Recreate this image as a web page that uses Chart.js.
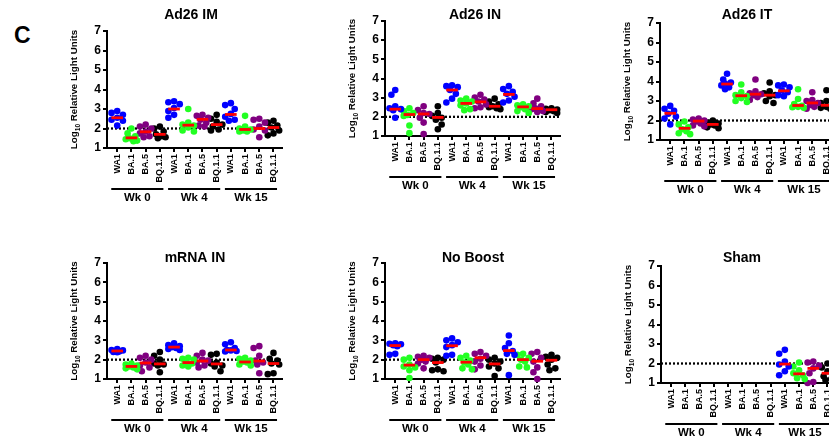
<!DOCTYPE html>
<html>
<head>
<meta charset="utf-8">
<script src="https://cdn.jsdelivr.net/npm/chart.js@4.4.1/dist/chart.umd.min.js"></script>
<style>
    body { margin: 0; width: 829px; height: 444px; overflow: hidden; position: relative; background: #fff; }
    canvas { position: absolute; }
    #letter { position: absolute; left: 14px; top: 22px; font: bold 23px "Liberation Sans", Arial, sans-serif; }
</style>
</head>
<body>
<div id="letter">C</div>

<script>
    'use strict';

    var variants = ['WA1', 'BA.1', 'BA.5', 'BQ.1.1'];
    var weeks = ['Wk 0', 'Wk 4', 'Wk 15'];
    var variantColors = ['#0000ff', '#22ff22', '#800080', '#000000'];
    var lod = 2;

    // log10 RLU per animal, 12 groups: weeks x variants
    var ad26IM = [
        [2.9, 2.8, 2.7, 2.55, 2.45, 2.4, 2.15],
        [2.0, 1.75, 1.6, 1.5, 1.45, 1.38, 1.35],
        [2.2, 2.1, 2.0, 1.85, 1.75, 1.6, 1.55],
        [2.1, 2.0, 1.85, 1.7, 1.6, 1.55, 1.5],
        [3.4, 3.35, 3.25, 3.05, 2.9, 2.7, 2.55],
        [3.0, 2.3, 2.2, 2.15, 2.05, 1.9, 1.85],
        [2.7, 2.65, 2.55, 2.45, 2.3, 2.15, 2.1],
        [2.7, 2.5, 2.35, 2.2, 2.1, 1.95, 1.9],
        [3.3, 3.2, 3.0, 2.75, 2.6, 2.45, 2.4],
        [2.65, 2.1, 2.0, 1.95, 1.9, 1.85, 1.85],
        [2.5, 2.45, 2.3, 2.1, 1.95, 1.9, 1.55],
        [2.4, 2.3, 2.15, 2.05, 1.9, 1.75, 1.65]
    ];
    var ad26IMMedian = [2.55, 1.52, 1.83, 1.7, 3.0, 2.17, 2.47, 2.2, 2.72, 1.95, 2.0, 2.05];

    var ad26IN = [
        [3.4, 3.15, 2.55, 2.45, 2.4, 2.35, 1.95],
        [2.45, 2.3, 2.2, 2.1, 2.05, 1.55, 1.15],
        [2.55, 2.35, 2.2, 2.15, 1.95, 1.7, 1.1],
        [2.55, 2.2, 2.05, 1.95, 1.85, 1.6, 1.35],
        [3.65, 3.6, 3.55, 3.4, 3.2, 2.95, 2.75],
        [2.95, 2.85, 2.8, 2.7, 2.6, 2.4, 2.35],
        [3.15, 3.0, 2.9, 2.8, 2.65, 2.5, 2.45],
        [2.95, 2.8, 2.65, 2.55, 2.5, 2.45, 2.4],
        [3.6, 3.45, 3.3, 3.2, 3.05, 2.85, 2.75],
        [2.65, 2.6, 2.55, 2.5, 2.4, 2.3, 2.2],
        [2.95, 2.7, 2.55, 2.45, 2.4, 2.3, 2.25],
        [2.45, 2.42, 2.38, 2.35, 2.3, 2.25, 2.2]
    ];
    var ad26INMedian = [2.4, 2.12, 2.15, 1.97, 3.4, 2.7, 2.78, 2.55, 3.17, 2.52, 2.43, 2.37];

    var ad26IT = [
        [2.75, 2.6, 2.5, 2.35, 2.2, 2.1, 1.8],
        [1.95, 1.8, 1.65, 1.55, 1.45, 1.35, 1.3],
        [2.1, 2.05, 2.0, 1.95, 1.85, 1.75, 1.7],
        [2.0, 1.9, 1.85, 1.8, 1.75, 1.65, 1.6],
        [4.4, 4.1, 3.95, 3.9, 3.8, 3.7, 3.6],
        [3.85, 3.45, 3.3, 3.25, 3.15, 3.0, 2.95],
        [4.1, 3.5, 3.4, 3.35, 3.3, 3.2, 3.05],
        [3.95, 3.5, 3.4, 3.3, 3.25, 3.0, 2.9],
        [3.85, 3.8, 3.7, 3.55, 3.45, 3.3, 3.25],
        [3.6, 3.1, 2.85, 2.75, 2.7, 2.68, 2.65],
        [3.45, 3.05, 3.0, 2.9, 2.8, 2.7, 2.6],
        [3.55, 3.0, 2.9, 2.8, 2.7, 2.65, 2.6]
    ];
    var ad26ITMedian = [2.37, 1.6, 1.97, 1.8, 3.87, 3.27, 3.35, 3.3, 3.52, 2.77, 2.9, 2.78];

    var mrnaIN = [
        [2.55, 2.5, 2.48, 2.45, 2.42, 2.4, 2.38],
        [1.8, 1.75, 1.7, 1.65, 1.6, 1.55, 1.5],
        [2.2, 2.1, 2.0, 1.85, 1.7, 1.6, 1.4],
        [2.4, 2.2, 2.0, 1.8, 1.75, 1.7, 1.35],
        [2.85, 2.75, 2.7, 2.65, 2.6, 2.55, 2.5],
        [2.1, 2.05, 2.0, 1.85, 1.8, 1.7, 1.65],
        [2.35, 2.2, 2.0, 1.95, 1.85, 1.7, 1.6],
        [2.3, 2.25, 1.85, 1.8, 1.7, 1.65, 1.4],
        [2.9, 2.8, 2.6, 2.5, 2.48, 2.45, 2.42],
        [2.1, 2.05, 1.95, 1.9, 1.85, 1.75, 1.7],
        [2.7, 2.6, 2.2, 1.95, 1.85, 1.75, 1.3],
        [2.35, 2.05, 1.95, 1.8, 1.75, 1.3, 1.25]
    ];
    var mrnaINMedian = [2.45, 1.65, 1.83, 1.78, 2.65, 1.85, 1.93, 1.78, 2.5, 1.88, 1.93, 1.8];

    var noBoost = [
        [2.85, 2.82, 2.8, 2.75, 2.7, 2.3, 2.25],
        [2.1, 2.0, 1.75, 1.65, 1.6, 1.45, 1.05],
        [2.2, 2.15, 2.1, 2.0, 1.9, 1.8, 1.55],
        [2.1, 2.05, 2.0, 1.85, 1.5, 1.45, 1.4],
        [3.1, 3.0, 2.9, 2.75, 2.65, 2.25, 2.2],
        [2.2, 2.1, 1.95, 1.85, 1.75, 1.55, 1.5],
        [2.4, 2.3, 2.2, 2.05, 1.9, 1.7, 1.5],
        [2.1, 2.0, 1.9, 1.8, 1.65, 1.55, 1.15],
        [3.25, 2.85, 2.6, 2.45, 2.3, 2.25, 1.2],
        [2.3, 2.25, 2.1, 2.0, 1.9, 1.65, 1.6],
        [2.4, 2.3, 2.1, 1.9, 1.6, 1.35, 1.0],
        [2.25, 2.15, 2.1, 2.0, 1.75, 1.55, 1.45]
    ];
    var noBoostMedian = [2.73, 1.72, 2.0, 1.85, 2.72, 1.87, 2.1, 1.78, 2.47, 2.0, 1.92, 1.97];

    var sham = [
        [], [], [], [],
        [], [], [], [],
        [2.7, 2.5, 2.1, 1.95, 1.85, 1.6, 1.4],
        [2.05, 1.85, 1.65, 1.5, 1.4, 1.25, 1.2],
        [2.1, 2.05, 1.9, 1.75, 1.5, 1.05, 1.0],
        [2.0, 1.8, 1.6, 1.5, 1.35, 1.2, 1.15]
    ];
    var shamMedian = [null, null, null, null, null, null, null, null, 1.97, 1.47, 1.75, 1.5];

    var panelTitles = ['Ad26 IM', 'Ad26 IN', 'Ad26 IT', 'mRNA IN', 'No Boost', 'Sham'];
    var panelValues = [ad26IM, ad26IN, ad26IT, mrnaIN, noBoost, sham];
    var panelMedians = [ad26IMMedian, ad26INMedian, ad26ITMedian, mrnaINMedian, noBoostMedian, shamMedian];

    // page placement of each panel: y axis x, top (7) and bottom (1) of the axis, title centre
    var panelBoxes = [
        {axisX: 107, top: 31, bottom: 148, titleX: 191, titleY: 15},
        {axisX: 385, top: 21, bottom: 136, titleX: 475, titleY: 15},
        {axisX: 660, top: 23, bottom: 140, titleX: 747, titleY: 15},
        {axisX: 107, top: 263, bottom: 379, titleX: 195, titleY: 258},
        {axisX: 385, top: 263, bottom: 379, titleX: 473, titleY: 258},
        {axisX: 661, top: 266, bottom: 383, titleX: 742, titleY: 258}
    ];

    var FONT = '"Liberation Sans", Arial, sans-serif';
    var PAD_L = 62, PAD_T = 30, PAD_R = 12, PAD_B = 62, PLOT_W = 175;
    var X_MIN = -0.72, X_MAX = 11.6;
    var X_PX = PLOT_W / (X_MAX - X_MIN), Y_PX = 19.5;

    Chart.defaults.font.family = FONT;

    // spread the dots of one group sideways so they don't sit on top of each other
    function swarm(values, center) {
        var placed = [];
        var order = values.map(function (v, i) { return i; })
            .sort(function (a, b) { return values[b] - values[a]; });
        var offsets = [0, -0.27, 0.27, -0.14, 0.14, -0.4, 0.4];
        order.forEach(function (i) {
            var y = values[i];
            var best = 0, bestD = -1;
            for (var k = 0; k < offsets.length; k++) {
                var c = offsets[k], d = Infinity;
                placed.forEach(function (p) {
                    d = Math.min(d, Math.hypot((p.off - c) * X_PX, (p.y - y) * Y_PX));
                });
                if (d >= 6) { best = c; break; }
                if (d > bestD) { bestD = d; best = c; }
            }
            placed.push({off: best, y: y});
        });
        return placed.map(function (p) { return {x: center + p.off, y: p.y}; });
    }

    var panelDecor = {
        id: 'panelDecor',
        afterDraw: function (chart, args, opts) {
            var ctx = chart.ctx, xs = chart.scales.x, a = chart.chartArea;
            ctx.save();
            ctx.fillStyle = '#000';
            ctx.strokeStyle = '#000';
            ctx.textAlign = 'center';
            ctx.textBaseline = 'middle';

            ctx.font = 'bold 14px ' + FONT;
            ctx.fillText(opts.title, opts.titleX, opts.titleY);

            // week brackets under the variant labels
            ctx.lineWidth = 2;
            ctx.font = 'bold 11.5px ' + FONT;
            weeks.forEach(function (w, g) {
                var x0 = xs.getPixelForValue(g * 4 - 0.42);
                var x1 = xs.getPixelForValue(g * 4 + 3.25);
                ctx.beginPath();
                ctx.moveTo(x0, a.bottom + 41);
                ctx.lineTo(x1, a.bottom + 41);
                ctx.stroke();
                ctx.fillText(w, (x0 + x1) / 2, a.bottom + 50);
            });

            // y title with subscript 10
            ctx.translate(a.left - 33, (a.top + a.bottom) / 2);
            ctx.rotate(-Math.PI / 2);
            ctx.textAlign = 'left';
            ctx.textBaseline = 'alphabetic';
            var big = 'bold 9.8px ' + FONT, small = 'bold 6.5px ' + FONT;
            ctx.font = big;
            var w1 = ctx.measureText('Log').width;
            var w3 = ctx.measureText(' Relative Light Units').width;
            ctx.font = small;
            var w2 = ctx.measureText('10').width;
            var x = -(w1 + w2 + w3) / 2;
            ctx.font = big;
            ctx.fillText('Log', x, 3);
            ctx.font = small;
            ctx.fillText('10', x + w1, 5.5);
            ctx.font = big;
            ctx.fillText(' Relative Light Units', x + w1 + w2, 3);
            ctx.restore();
        }
    };

    function buildPanel(p) {
        var box = panelBoxes[p];
        var values = panelValues[p], medians = panelMedians[p];
        var left = box.axisX - PAD_L, top = box.top - PAD_T;

        var canvas = document.createElement('canvas');
        canvas.width = PAD_L + PLOT_W + PAD_R;
        canvas.height = PAD_T + (box.bottom - box.top) + PAD_B;
        canvas.style.left = left + 'px';
        canvas.style.top = top + 'px';
        document.body.appendChild(canvas);

        var dotSets = variants.map(function (v, vi) {
            return {
                type: 'scatter', label: v, data: [], order: 1, clip: false,
                backgroundColor: variantColors[vi], borderWidth: 0,
                pointRadius: 3.3, pointHoverRadius: 3.3
            };
        });
        values.forEach(function (vals, k) {
            dotSets[k % 4].data = dotSets[k % 4].data.concat(swarm(vals, k));
        });

        var medianData = [];
        medians.forEach(function (m, k) {
            if (m !== null) medianData.push({x: k, y: m});
        });

        var datasets = [{
            type: 'scatter', label: 'median', data: medianData, order: 0, clip: false,
            pointStyle: 'line', pointRadius: 5.8, borderColor: '#ff0000', borderWidth: 2.8
        }].concat(dotSets).concat([{
            type: 'line', label: 'LOD', order: 2,
            data: [{x: X_MIN, y: lod}, {x: X_MAX, y: lod}],
            borderColor: '#000', borderWidth: 2.3, borderDash: [2, 2], pointRadius: 0
        }]);

        new Chart(canvas, {
            type: 'scatter',
            data: {datasets: datasets},
            options: {
                responsive: false,
                animation: false,
                events: [],
                layout: {padding: {left: 0, top: PAD_T, right: PAD_R, bottom: 0}},
                plugins: {
                    legend: {display: false},
                    tooltip: {enabled: false},
                    panelDecor: {
                        title: panelTitles[p],
                        titleX: box.titleX - left,
                        titleY: box.titleY - top
                    }
                },
                scales: {
                    x: {
                        type: 'linear', min: X_MIN, max: X_MAX,
                        afterFit: function (scale) { scale.height = PAD_B; },
                        afterBuildTicks: function (scale) {
                            scale.ticks = [];
                            for (var i = 0; i < 12; i++) scale.ticks.push({value: i});
                        },
                        grid: {drawOnChartArea: false, tickLength: 4, color: '#000', lineWidth: 2},
                        border: {color: '#000', width: 2},
                        ticks: {
                            autoSkip: false, minRotation: 90, maxRotation: 90, padding: 2,
                            color: '#000', font: {size: 9, weight: 'bold'},
                            callback: function (v) { return variants[v % 4]; }
                        }
                    },
                    y: {
                        min: 1, max: 7,
                        afterFit: function (scale) { scale.width = PAD_L; },
                        grid: {drawOnChartArea: false, tickLength: 4, color: '#000', lineWidth: 2},
                        border: {color: '#000', width: 2},
                        ticks: {stepSize: 1, padding: 2, color: '#000', font: {size: 12, weight: 'bold'}}
                    }
                }
            },
            plugins: [panelDecor]
        });
    }

    for (var p = 0; p < panelTitles.length; p++) buildPanel(p);
</script>
</body>
</html>
